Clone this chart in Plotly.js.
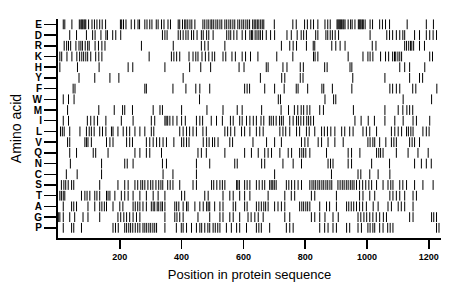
<!DOCTYPE html>
<html>
<head>
<meta charset="utf-8">
<script src="https://cdn.plot.ly/plotly-3.0.1.min.js"></script>
<style>html,body{margin:0;padding:0;background:#fff;}#chart{width:460px;height:299px;}</style>
</head>
<body>
<div id="chart"></div>
<script>
// Amino acid rows, top to bottom
const aminoAcids = ["E","D","R","K","H","Y","F","W","M","I","L","V","Q","N","C","S","T","A","G","P"];

// Residue positions for each amino acid
const posE = [17,22,45,69,74,77,80,84,87,90,99,110,118,126,135,143,154,202,206,212,220,237,248,259,264,281,288,297,304,318,324,335,343,356,364,389,394,403,410,414,420,427,433,443,469,475,482,488,495,498,504,511,517,524,530,540,546,553,559,566,572,582,588,595,601,608,614,620,630,635,640,645,650,656,661,666,700,760,771,798,807,818,827,841,864,873,881,903,906,909,912,915,918,922,925,929,939,947,952,961,972,975,978,981,985,988,994,1010,1018,1041,1050,1060,1073,1130,1192,1215];
const posD = [38,60,92,112,120,139,155,160,177,187,203,338,346,353,389,396,405,414,421,432,439,450,464,470,481,488,502,546,553,559,569,579,596,607,621,626,630,638,644,650,655,662,674,688,701,741,755,774,787,795,804,834,841,867,873,881,888,897,908,1010,1064,1073,1083,1095,1106,1116,1122,1154,1170,1192,1203,1214,1225];
const posR = [20,28,34,41,58,68,74,79,88,96,101,120,131,142,152,270,373,464,475,486,540,723,750,761,772,804,826,831,886,899,913,929,1017,1029,1122,1128,1135,1141,1145,1151,1170,1186];
const posK = [6,12,29,45,61,70,77,83,90,96,106,122,132,142,295,367,375,384,394,424,437,446,453,466,477,488,499,507,534,543,563,574,596,607,623,647,708,760,827,832,841,939,987,1003,1010,1019,1044,1060,1070,1083,1089,1093,1100,1106,1112,1203,1212];
const posH = [6,63,133,227,242,346,426,462,494,586,602,674,680,728,741,784,794,863,871,945,951,1106,1122,1138,1187];
const posY = [68,119,168,197,405,655,724,734,784,793,954,1058,1138,1170,1180];
const posF = [49,55,281,286,372,414,446,459,491,604,612,620,669,701,732,771,777,808,854,860,888,951,1074,1083,1095,1106,1148,1158,1226];
const posW = [17,34,52,458,713,720,864,892,899,1117,1209];
const posM = [31,132,182,209,216,241,308,330,338,400,482,534,580,596,659,722,746,765,776,787,795,806,815,847,859,956,1058,1101,1116,1129,1138,1148];
const posI = [17,34,95,106,117,128,155,205,243,302,313,346,350,355,362,372,385,400,412,448,459,468,496,513,532,558,567,588,596,610,621,632,642,657,666,684,690,697,706,717,723,729,750,761,772,778,786,795,805,811,818,827,961,981,1004,1024,1058,1090,1117,1149,1160,1203];
const posL = [8,14,20,38,71,92,101,108,117,135,144,155,173,178,194,211,222,232,249,265,281,302,310,394,405,416,426,437,448,469,480,540,549,559,572,594,604,621,642,653,664,718,728,737,750,772,782,804,813,831,853,862,872,883,896,918,928,944,955,987,998,1009,1031,1079,1090,1101,1112,1128,1134,1142,1149,1181,1192,1201];
const posV = [31,38,87,92,97,108,157,168,178,222,232,241,286,297,308,319,329,340,351,375,400,407,416,424,470,481,489,500,507,518,556,565,631,675,701,723,788,799,809,842,853,874,896,923,1003,1010,1019,1025,1041,1061,1079,1087,1095,1138,1146,1154,1170];
const posQ = [38,60,114,122,162,249,265,286,297,335,453,464,480,540,604,626,648,669,680,691,718,745,756,782,789,795,802,815,869,939,950,977,1031,1038,1044,1052,1095,1133,1165,1198];
const posN = [40,141,216,224,243,338,351,448,491,572,580,659,669,728,761,788,874,882,890,939,950,1015,1073,1154,1176,1192,1208];
const posC = [27,62,141,340,372,448,701,885,971,980,1009,1036,1074];
const posS = [11,19,25,33,44,51,135,194,216,227,249,258,268,274,281,291,300,307,317,326,333,339,355,363,372,394,437,448,497,504,514,524,532,540,578,582,587,604,612,621,642,651,661,669,685,690,695,700,706,739,747,756,766,777,788,815,822,828,834,841,847,854,860,867,873,880,886,906,913,920,926,933,939,946,952,958,966,976,986,996,1006,1015,1031,1052,1068,1077,1084,1106,1116,1128,1154,1181,1214];
const posT = [6,11,17,22,76,87,94,103,119,126,135,157,162,168,184,205,216,227,243,265,286,308,324,346,400,410,475,486,534,556,567,588,604,621,680,734,755,766,820,831,901,976,987,1009,1025,1074,1084,1095,1106,1122,1149,1160];
const posA = [17,44,51,60,97,119,135,142,150,157,178,200,210,243,250,258,265,275,286,302,308,313,321,326,333,338,346,378,384,391,405,416,421,443,459,470,481,486,491,507,524,534,567,575,604,612,642,650,658,666,672,680,701,712,723,734,782,789,795,802,808,815,847,869,879,901,934,941,949,957,966,976,986,998,1020,1036,1068,1079,1101,1111,1122,1149];
const posG = [1,6,17,38,54,81,97,135,194,203,213,222,232,243,254,265,346,378,385,394,405,453,491,524,534,556,567,588,615,625,637,648,664,734,750,820,831,847,864,890,907,971,980,990,999,1009,1019,1030,1041,1053,1063,1138,1149,1209,1216,1225];
const posP = [17,44,51,76,178,186,195,216,222,229,235,242,250,258,265,275,281,287,294,300,307,313,319,346,383,399,405,416,432,448,459,465,475,485,491,502,509,517,524,545,561,578,588,610,642,650,658,685,739,750,761,847,863,874,890,901,934,944,971,982,1003,1010,1019,1025,1041,1052,1067,1075,1084,1225,1233];

const positions = [posE,posD,posR,posK,posH,posY,posF,posW,posM,posI,posL,posV,posQ,posN,posC,posS,posT,posA,posG,posP];

const xTickVals = [200,400,600,800,1000,1200];
const xTickText = ["200","400","600","800","1000","1200"];

const nRows = aminoAcids.length;
const rowY = aminoAcids.map((a, i) => nRows - 1 - i);

const traces = aminoAcids.map((aa, i) => ({
  type: 'scatter',
  mode: 'markers',
  x: positions[i],
  y: positions[i].map(() => rowY[i]),
  name: aa,
  hoverinfo: 'skip',
  marker: {
    symbol: 'line-ns',
    size: 7,
    color: '#000',
    line: {width: 1, color: '#000'}
  },
  showlegend: false
}));

const layout = {
  width: 460,
  height: 299,
  margin: {l: 58, r: 19, t: 19, b: 61},
  paper_bgcolor: '#fff',
  plot_bgcolor: '#fff',
  font: {family: 'Liberation Sans, Arial, sans-serif', color: '#000'},
  xaxis: {
    range: [0, 1239.5],
    tickvals: xTickVals,
    ticktext: xTickText,
    ticks: 'outside',
    ticklen: 9,
    tickwidth: 1.5,
    tickcolor: '#000',
    showline: true,
    linewidth: 2,
    linecolor: '#000',
    showgrid: false,
    zeroline: false,
    tickfont: {size: 9, weight: 'bold'},
    title: {text: 'Position in protein sequence', font: {size: 13}, standoff: 9}
  },
  yaxis: {
    range: [-0.95, 19.5],
    tickvals: rowY,
    ticktext: aminoAcids,
    ticks: 'outside',
    ticklen: 12,
    tickwidth: 1.5,
    tickcolor: '#000',
    showline: true,
    linewidth: 2,
    linecolor: '#000',
    showgrid: false,
    zeroline: false,
    tickfont: {size: 10, weight: 'bold'},
    title: {text: 'Amino acid', font: {size: 14}, standoff: 8}
  },
  hovermode: false
};

Plotly.newPlot('chart', traces, layout, {staticPlot: true, displayModeBar: false});
</script>
</body>
</html>
